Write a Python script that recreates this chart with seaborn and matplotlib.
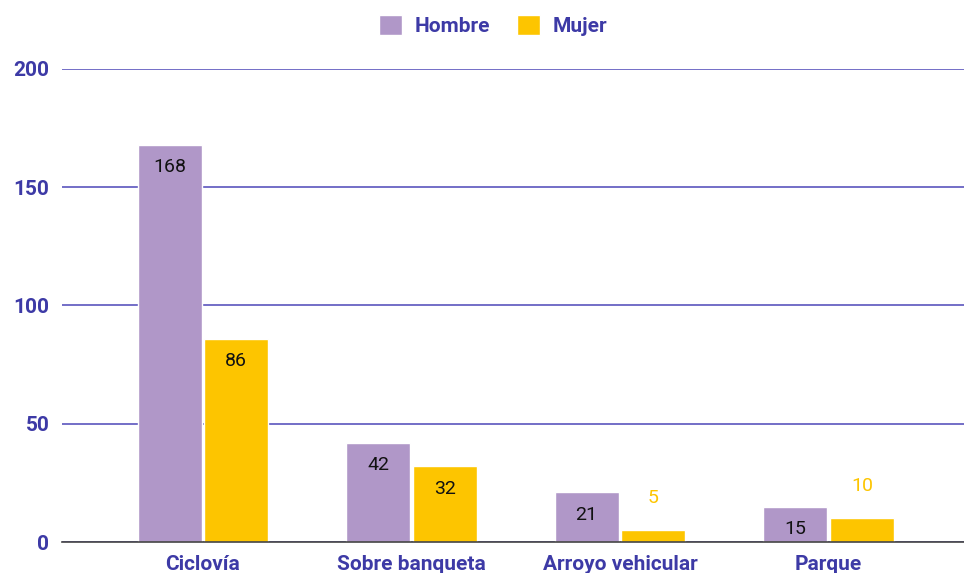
import pandas as pd
import seaborn as sns
import matplotlib.pyplot as plt

categorias = ['Ciclovía', 'Sobre banqueta', 'Arroyo vehicular', 'Parque']
hombre = [168, 42, 21, 15]
mujer = [86, 32, 5, 10]
series = ['Hombre', 'Mujer']
colores = {'Hombre': '#b097c8', 'Mujer': '#fdc500'}
azul = '#3d3aa6'

df = pd.DataFrame({
	'lugar': categorias * 2,
	'sexo': ['Hombre'] * len(categorias) + ['Mujer'] * len(categorias),
	'valor': hombre + mujer,
})

sns.set_style('white')
plt.rcParams['font.family'] = ['Roboto', 'DejaVu Sans']

fig = plt.figure(figsize=(9.64, 5.73), dpi=100)
ax = fig.add_axes([0.0643, 0.0541, 0.9357, 0.8255])

sns.barplot(data=df, x='lugar', y='valor', hue='sexo', hue_order=series,
			palette=colores, width=0.64, gap=0.04, saturation=1, ax=ax)

ax.set_ylim(0, 200)
ax.set_xlim(-0.676, 3.65)
ax.set_yticks([0, 50, 100, 150, 200])
ax.yaxis.grid(True, color='#4d47b8', linewidth=1.1)
ax.set_axisbelow(True)
for s in ['top', 'right', 'left']:
	ax.spines[s].set_visible(False)
ax.spines['bottom'].set_color('#444444')
ax.spines['bottom'].set_linewidth(1.2)
ax.tick_params(axis='y', length=0, pad=9)
ax.tick_params(axis='x', length=0, pad=9)
for t in ax.get_yticklabels() + ax.get_xticklabels():
	t.set_fontweight('bold')
	t.set_fontsize(15)
	t.set_color(azul)
ax.set_xlabel('')
ax.set_ylabel('')

# etiquetas: dentro de la barra si cabe, arriba si es pequeña
for cont, nombre in zip(ax.containers, series):
	for rect in cont:
		h = rect.get_height()
		x = rect.get_x() + rect.get_width() / 2
		if h >= 12:
			ax.annotate(f'{int(h)}', (x, h), xytext=(0, -16), textcoords='offset points',
						ha='center', va='center', fontsize=14, color='#111111')
		else:
			ax.annotate(f'{int(h)}', (x, h), xytext=(0, 23), textcoords='offset points',
						ha='center', va='center', fontsize=14, color=colores[nombre])

leg = ax.legend(loc='center', bbox_to_anchor=(0.478, 1.0926), ncol=2,
				frameon=False, handlelength=1.1, handleheight=1.1, columnspacing=1.3,
				handletextpad=0.6, prop={'weight': 'bold', 'size': 15})
for t in leg.get_texts():
	t.set_color(azul)

fig.savefig('out.png', dpi=100)
